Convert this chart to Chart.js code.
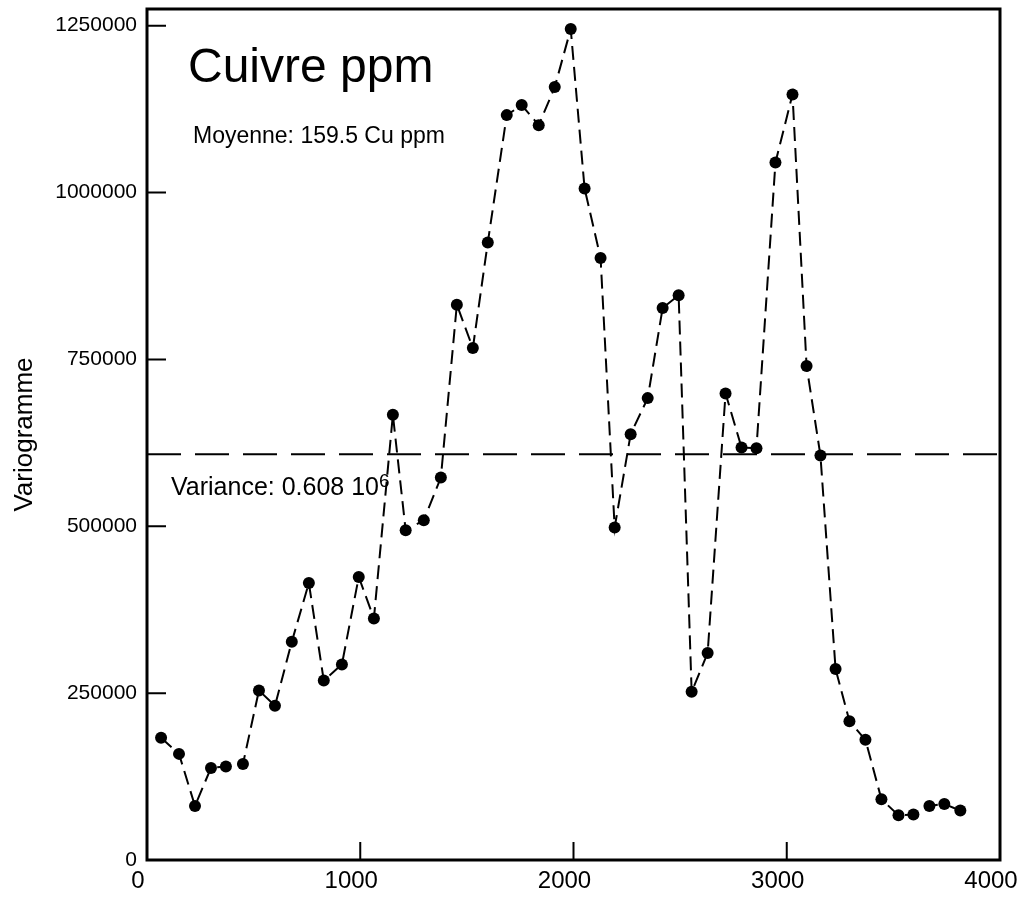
<!DOCTYPE html>
<html lang="fr">
<head>
  <meta charset="UTF-8" />
  <title>Variogramme Cuivre ppm</title>
  <script src="https://cdn.jsdelivr.net/npm/chart.js"></script>
  <style>
    html, body { margin: 0; padding: 0; background: #fff; }
    #wrap { width: 1026px; height: 902px; }
  </style>
</head>
<body>
  <div id="wrap"><canvas id="vario" width="1026" height="902"></canvas></div>

  <script>
    // lag distances (x) and variogram values (y)
    const lagDistances = [66, 150, 225, 300, 370, 450, 525, 600, 679, 759,
      829, 914, 993, 1064, 1153, 1213, 1298, 1378, 1453, 1528,
      1598, 1687, 1757, 1837, 1912, 1987, 2052, 2127, 2193, 2268,
      2348, 2418, 2493, 2554, 2629, 2713, 2788, 2858, 2947, 3027,
      3093, 3158, 3229, 3294, 3369, 3444, 3524, 3594, 3669, 3739, 3814];
    const variogramValues = [183000, 159000, 81000, 138000, 140000, 144000, 254000, 231000, 327000, 415000,
      269000, 293000, 424000, 362000, 667000, 494000, 509000, 573000, 832000, 767000,
      925000, 1116000, 1131000, 1101000, 1158000, 1245000, 1006000, 902000, 498000, 638000,
      692000, 827000, 846000, 252000, 310000, 699000, 618000, 617000, 1045000, 1147000,
      740000, 606000, 286000, 208000, 180000, 91000, 67000, 68000, 81000, 84000, 74000];
    const variance = 608000;
    const xTickValues = [0, 1000, 2000, 3000, 4000];
    const yTickValues = [0, 250000, 500000, 750000, 1000000, 1250000];

    const points = lagDistances.map((x, i) => ({ x: x, y: variogramValues[i] }));
    const sillLine = [{ x: 0, y: variance }, { x: 4000, y: variance }];

    const FONT = "'Liberation Sans', Arial, Helvetica, sans-serif";

    // frame, inward ticks and the text notes
    const framePlugin = {
      id: 'frame',
      afterDraw(chart) {
        const ctx = chart.ctx;
        const a = chart.chartArea;
        const xs = chart.scales.x, ys = chart.scales.y;
        ctx.save();
        ctx.strokeStyle = '#000';
        ctx.lineWidth = 3;
        ctx.strokeRect(a.left, a.top, a.right - a.left, a.bottom - a.top);

        ctx.lineWidth = 2;
        ctx.beginPath();
        yTickValues.forEach(v => {
          const py = ys.getPixelForValue(v);
          ctx.moveTo(a.left, py);
          ctx.lineTo(a.left + 19, py);
        });
        xTickValues.forEach(v => {
          if (v === 0 || v === 4000) return;
          const px = xs.getPixelForValue(v);
          ctx.moveTo(px, a.bottom);
          ctx.lineTo(px, a.bottom - 18);
        });
        ctx.stroke();

        ctx.fillStyle = '#000';
        ctx.textBaseline = 'alphabetic';
        ctx.textAlign = 'left';
        ctx.font = '48px ' + FONT;
        ctx.fillText('Cuivre ppm', a.left + 41, 82);
        ctx.font = '23px ' + FONT;
        ctx.fillText('Moyenne: 159.5 Cu ppm', a.left + 46, 143);

        ctx.font = '25px ' + FONT;
        const base = 'Variance: 0.608 10';
        ctx.fillText(base, a.left + 24, 495);
        const w = ctx.measureText(base).width;
        ctx.font = '19px ' + FONT;
        ctx.fillText('6', a.left + 24 + w, 487);
        ctx.restore();
      }
    };

    const ctx = document.getElementById('vario').getContext('2d');

    new Chart(ctx, {
      type: 'scatter',
      data: {
        datasets: [
          {
            label: 'Variogramme',
            data: points,
            showLine: true,
            borderColor: '#000',
            borderWidth: 2,
            borderDash: [14, 7],
            backgroundColor: '#000',
            pointRadius: 6,
            pointBorderWidth: 0,
            pointBackgroundColor: '#000'
          },
          {
            label: 'Variance',
            data: sillLine,
            showLine: true,
            borderColor: '#000',
            borderWidth: 2,
            borderDash: [34, 14],
            pointRadius: 0
          }
        ]
      },
      options: {
        responsive: false,
        animation: false,
        layout: { padding: { top: 9, right: 26, left: 0, bottom: 0 } },
        plugins: {
          legend: { display: false },
          tooltip: { enabled: false }
        },
        scales: {
          x: {
            type: 'linear',
            min: 0,
            max: 4000,
            afterBuildTicks: s => { s.ticks = xTickValues.map(v => ({ value: v })); },
            afterFit: s => { s.height = 42; s.paddingLeft = 0; s.paddingRight = 0; },
            grid: { display: false, drawTicks: false },
            border: { display: false },
            ticks: {
              color: '#000',
              font: { family: FONT, size: 24 },
              padding: 7,
              labelOffset: -9,
              maxRotation: 0,
              callback: v => String(v)
            }
          },
          y: {
            type: 'linear',
            min: 0,
            max: 1275000,
            afterBuildTicks: s => { s.ticks = yTickValues.map(v => ({ value: v })); },
            afterFit: s => { s.width = 147; s.paddingTop = 0; s.paddingBottom = 0; },
            grid: { display: false, drawTicks: false },
            border: { display: false },
            ticks: {
              color: '#000',
              font: { family: FONT, size: 21 },
              padding: 10,
              callback: v => String(v)
            },
            title: {
              display: true,
              text: 'Variogramme',
              color: '#000',
              font: { family: FONT, size: 26 },
              padding: { top: 9, bottom: 0 }
            }
          }
        }
      },
      plugins: [framePlugin]
    });
  </script>
</body>
</html>
